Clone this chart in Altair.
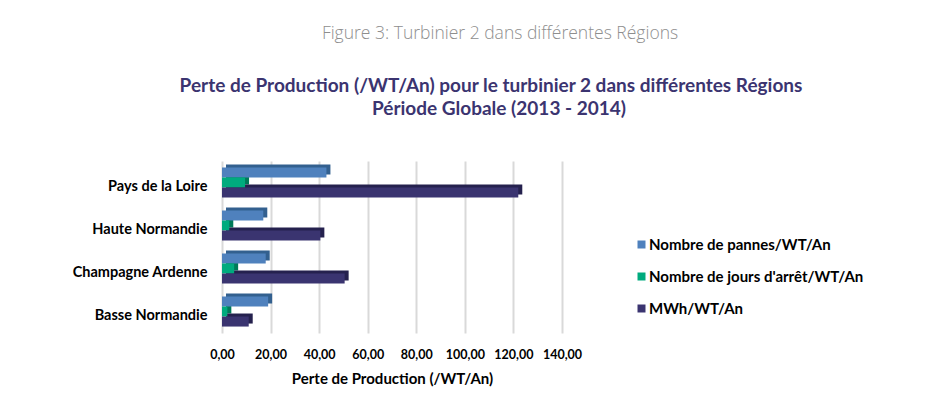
import altair as alt
import pandas as pd

regions = ["Pays de la Loire", "Haute Normandie", "Champagne Ardenne", "Basse Normandie"]
series = ["Nombre de pannes/WT/An", "Nombre de jours d'arrêt/WT/An", "MWh/WT/An"]
pannes = [43.0, 17.0, 18.0, 19.0]
jours = [9.5, 3.0, 5.0, 2.2]
mwh = [122.0, 40.5, 50.5, 11.0]
colors = ["#4f81bd", "#00ab7e", "#3a3470"]
side_colors = ["#33608f", "#007a58", "#25214e"]
ticks = [0, 20, 40, 60, 80, 100, 120, 140]

rows = []
for i, r in enumerate(regions):
    for s, vals in zip(series, [pannes, jours, mwh]):
        rows.append({"Region": r, "Serie": s, "Valeur": vals[i]})
df = pd.DataFrame(rows)

FONT = "Lato"
W, H = 340, 172
LEFT, TOP = 214, 153
RIGHT = 944 - 16 - LEFT - W
BOTTOM = 398 - 16 - TOP - H
BW = 43 * 0.7

x_enc = alt.X("Valeur:Q", scale=alt.Scale(domain=[0, 140], nice=False),
              axis=alt.Axis(values=ticks, title="Perte de Production (/WT/An)",
                            labelExpr="replace(format(datum.value, '.2f'), '.', ',')",
                            labelFont=FONT, labelFontSize=12.5, labelFontWeight="bold",
                            labelColor="#000000", labelPadding=15, labelOverlap=False,
                            labelFlush=False, zindex=0,
                            titleFont=FONT, titleFontSize=15, titleFontWeight="bold",
                            titleColor="#000000", titlePadding=11,
                            domain=False, ticks=False, grid=True,
                            gridColor="#d9d9d9", gridWidth=2))
y_enc = alt.Y("Region:N", sort=regions,
              scale=alt.Scale(paddingInner=0.3, paddingOuter=0.15),
              axis=alt.Axis(title=None, labelFont=FONT, labelFontSize=14.5,
                            labelFontWeight="bold", labelColor="#000000",
                            labelPadding=15, labelOffset=4, domain=False, ticks=False))

shadow = alt.Chart(df).mark_bar(xOffset=4, x2Offset=4).encode(
    x=x_enc,
    y=y_enc,
    yOffset=alt.YOffset("Serie:N", sort=series,
                        scale=alt.Scale(range=[-3, BW - 3], paddingInner=0, paddingOuter=0)),
    color=alt.Color("Serie:N", scale=alt.Scale(domain=series, range=side_colors), legend=None),
)

front = alt.Chart(df).mark_bar().encode(
    x=x_enc,
    y=y_enc,
    yOffset=alt.YOffset("Serie:N", sort=series,
                        scale=alt.Scale(range=[0, BW], paddingInner=0, paddingOuter=0)),
    color=alt.Color("Serie:N", scale=alt.Scale(domain=series, range=colors),
                    legend=alt.Legend(title=None, orient="none", legendX=412, legendY=76,
                                      symbolType="square", symbolSize=64,
                                      symbolStrokeWidth=0, labelOffset=0,
                                      labelFont=FONT, labelFontSize=15,
                                      labelFontWeight="bold", labelColor="#000000",
                                      rowPadding=16, labelLimit=400)),
)

txt = pd.DataFrame({"a": [0]})
caption = alt.Chart(txt).mark_text(font="Open Sans", fontSize=17.5, color="#8e8e8e",
                                   fontWeight=300).encode(
    x=alt.value(278), y=alt.value(-127), text=alt.value("Figure 3: Turbinier 2 dans différentes Régions"))
title1 = alt.Chart(txt).mark_text(font=FONT, fontSize=19, fontWeight="bold", color="#3b3470").encode(
    x=alt.value(269), y=alt.value(-75),
    text=alt.value("Perte de Production (/WT/An) pour le turbinier 2 dans différentes Régions"))
title2 = alt.Chart(txt).mark_text(font=FONT, fontSize=19, fontWeight="bold", color="#3b3470").encode(
    x=alt.value(277), y=alt.value(-52), text=alt.value("Période Globale (2013 - 2014)"))

chart = alt.layer(shadow, front, caption, title1, title2).resolve_scale(
    color="independent", yOffset="independent").properties(
    width=W, height=H,
    autosize=alt.AutoSizeParams(type="none"),
    padding={"left": LEFT, "top": TOP, "right": RIGHT, "bottom": BOTTOM},
).configure_view(stroke=None)

chart.save("out.html", embed_options={"renderer": "svg", "actions": False})
